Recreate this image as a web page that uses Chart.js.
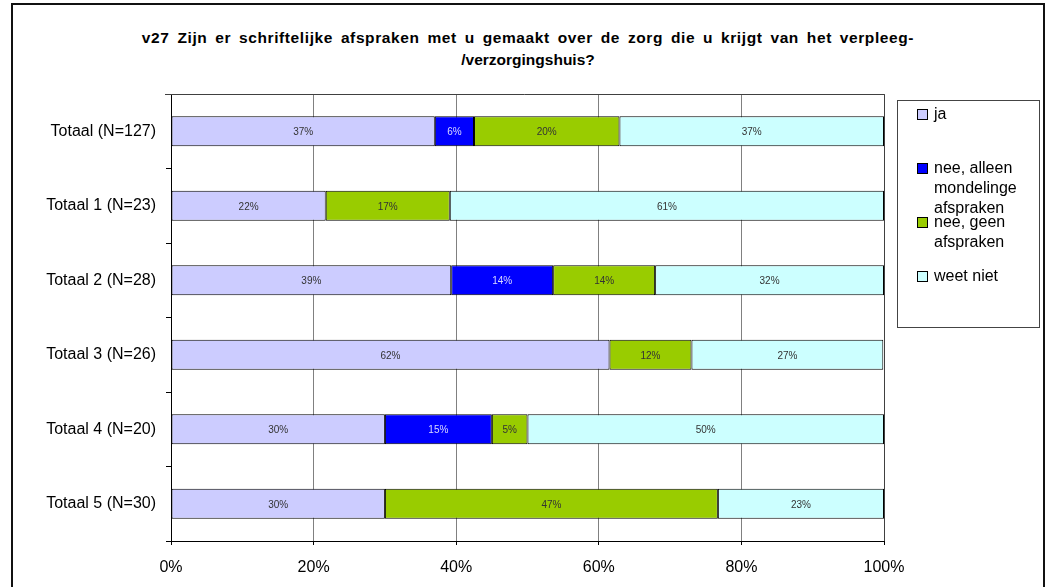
<!DOCTYPE html>
<html>
<head>
<meta charset="utf-8">
<script src="https://cdn.jsdelivr.net/npm/chart.js@4/dist/chart.umd.min.js"></script>
<style>
  html, body { margin: 0; padding: 0; background: #fff; }
  body { width: 1049px; height: 587px; position: relative; overflow: hidden; font-family: "Liberation Sans", Arial, sans-serif; }
  #frame { position: absolute; left: 11px; top: 3px; width: 1030px; height: 620px; border: 2px solid #111; }
  #title { position: absolute; left: 11px; width: 1034px; top: 27px; text-align: center; font-weight: bold; font-size: 15.5px; line-height: 22px; color: #000; }
  #title .l1 { letter-spacing: 0.6px; word-spacing: 3px; }
  #chart { position: absolute; left: 0; top: 0; }
  #legend { position: absolute; left: 897px; top: 100px; width: 141px; height: 226px; border: 1px solid #444; }
  .item { position: absolute; left: 19px; font-size: 16px; line-height: 20px; color: #000; }
  .item .sw { position: absolute; left: 0; top: 5px; width: 9px; height: 9px; border: 1px solid #000; }
  .item .tx { display: block; margin-left: 17px; width: 102px; }
</style>
</head>
<body>
<div id="frame"></div>
<div id="title"><span class="l1">v27 Zijn er schriftelijke afspraken met u gemaakt over de zorg die u krijgt van het verpleeg-</span><br>/verzorgingshuis?</div>
<canvas id="chart" width="1049" height="587"></canvas>
<div id="legend"></div>
<script>
// data
const categories = ["Totaal (N=127)", "Totaal 1 (N=23)", "Totaal 2 (N=28)", "Totaal 3 (N=26)", "Totaal 4 (N=20)", "Totaal 5 (N=30)"];
const ja = [37.0, 21.7, 39.3, 61.5, 30.0, 30.0];
const neeMondeling = [5.5, null, 14.3, null, 15.0, null];
const neeGeen = [20.4, 17.4, 14.3, 11.5, 5.0, 46.7];
const weetNiet = [37.1, 60.9, 32.1, 26.9, 50.0, 23.3];
const xTicks = [0, 20, 40, 60, 80, 100];

Chart.defaults.font.family = '"Liberation Sans", Arial, sans-serif';

//labels in the bars
const barLabels = {
  id: 'barLabels',
  afterDatasetsDraw(chart) {
    const ctx = chart.ctx;
    ctx.save();
    ctx.font = '10px "Liberation Sans", Arial, sans-serif';
    ctx.textAlign = 'center';
    ctx.textBaseline = 'middle';
    chart.data.datasets.forEach((ds, i) => {
      chart.getDatasetMeta(i).data.forEach((bar, j) => {
        const v = ds.data[j];
        if (v == null) return;
        ctx.fillStyle = ds.labelColor;
        ctx.fillText(Math.round(v) + '%', (bar.x + bar.base) / 2, bar.y + 1);
      });
    });
    ctx.restore();
  }
};

// top + right edge of plot area
const plotBorder = {
  id: 'plotBorder',
  beforeDatasetsDraw(chart) {
    const a = chart.chartArea;
    const ctx = chart.ctx;
    ctx.save();
    ctx.strokeStyle = '#404040';
    ctx.lineWidth = 1;
    ctx.beginPath();
    ctx.moveTo(a.left - 6, Math.round(a.top) + 0.5);
    ctx.lineTo(Math.round(a.right) + 0.5, Math.round(a.top) + 0.5);
    ctx.lineTo(Math.round(a.right) + 0.5, a.bottom);
    ctx.stroke();
    ctx.restore();
  }
};

const chart = new Chart(document.getElementById('chart'), {
  type: 'bar',
  data: {
    labels: categories,
    datasets: [
      { label: 'ja', data: ja, backgroundColor: '#ccccff', labelColor: '#333333' },
      { label: 'nee, alleen mondelinge afspraken', data: neeMondeling, backgroundColor: '#0000ff', labelColor: '#d8d8ff' },
      { label: 'nee, geen afspraken', data: neeGeen, backgroundColor: '#99cc00', labelColor: '#333333' },
      { label: 'weet niet', data: weetNiet, backgroundColor: '#ccffff', labelColor: '#333333' }
    ].map(d => Object.assign(d, { borderColor: '#000', borderWidth: 1, borderSkipped: false, categoryPercentage: 1, barPercentage: 0.4 }))
  },
  options: {
    indexAxis: 'y',
    responsive: false,
    animation: false,
    devicePixelRatio: 1,
    layout: { padding: { top: 94, right: 165, bottom: 0, left: 0 } },
    plugins: { legend: { display: false }, tooltip: { enabled: false }, title: { display: false } },
    scales: {
      x: {
        stacked: true, min: 0, max: 100,
        afterBuildTicks(s) { s.ticks = xTicks.map(v => ({ value: v })); },
        ticks: { callback: v => v + '%', font: { size: 16 }, color: '#000', padding: 13, maxRotation: 0 },
        grid: { color: '#808080', tickColor: '#000', tickLength: 4 },
        border: { color: '#000', width: 1 },
        afterFit(s) { s.height = 46; }
      },
      y: {
        stacked: true,
        ticks: { font: { size: 16 }, color: '#000', padding: 10 },
        grid: { drawOnChartArea: false, offset: true, tickLength: 5, tickColor: '#000' },
        border: { color: '#000', width: 1 },
        afterFit(s) { s.width = 171; }
      }
    }
  },
  plugins: [plotBorder, barLabels]
});

//legend
const legendTops = [103, 157, 211, 265];
const legend = document.getElementById('legend');
chart.data.datasets.forEach((ds, i) => {
  const el = document.createElement('div');
  el.className = 'item';
  el.style.top = legendTops[i] - 100 + 'px';
  el.innerHTML = '<span class="sw" style="background:' + ds.backgroundColor + '"></span><span class="tx">' + ds.label + '</span>';
  legend.appendChild(el);
});
</script>
</body>
</html>
